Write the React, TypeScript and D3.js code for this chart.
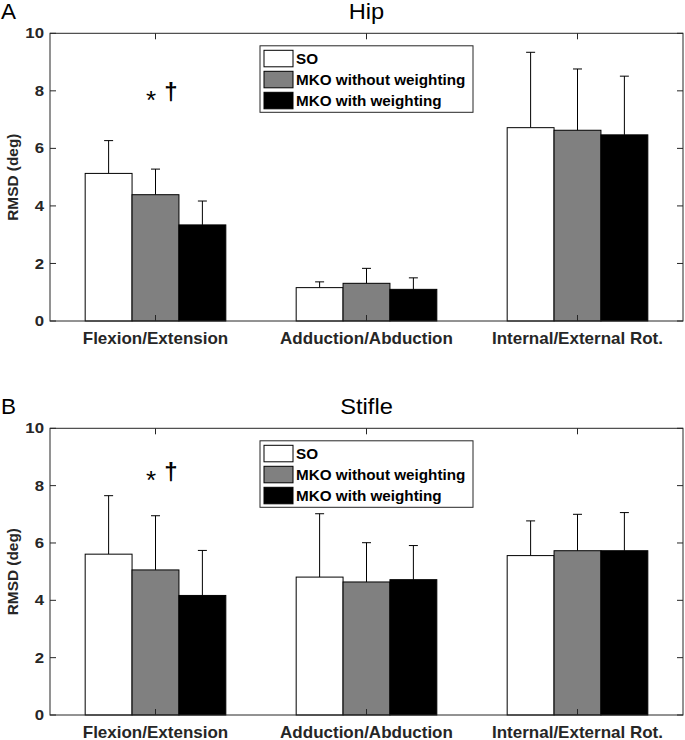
import React from "react";
import * as d3 from "d3";

const categories = ["Flexion/Extension", "Adduction/Abduction", "Internal/External Rot."];
const seriesNames = ["SO", "MKO without weighting", "MKO with weighting"];
const seriesColors = ["#ffffff", "#808080", "#000000"];
const yTicks = [0, 2, 4, 6, 8, 10];

const hipMeans = [
  [5.13, 1.16, 6.72],
  [4.39, 1.31, 6.63],
  [3.34, 1.10, 6.47],
];
const hipErrTops = [
  [6.27, 1.36, 9.34],
  [5.28, 1.83, 8.76],
  [4.17, 1.50, 8.51],
];
const stifleMeans = [
  [5.61, 4.81, 5.56],
  [5.06, 4.64, 5.73],
  [4.17, 4.72, 5.73],
];
const stifleErrTops = [
  [7.65, 7.02, 6.77],
  [6.95, 6.01, 7.0],
  [5.74, 5.91, 7.06],
];

const FONT = "Arial, 'Liberation Sans', sans-serif";
const AX = "#262626";

type PanelProps = {
  letter: string;
  title: string;
  top: number;
  bottom: number;
  means: number[][];
  errs: number[][];
  markY: number;
};

function Panel({ letter, title, top, bottom, means, errs, markY }: PanelProps) {
  const left = 50;
  const right = 683;
  const x = d3.scaleLinear().domain([0.5, 3.5]).range([left, right]);
  const y = d3.scaleLinear().domain([0, 10]).range([bottom, top]);
  const bw = 0.2222;
  const offsets = [-bw, 0, bw];
  const tickLen = 6;
  const legL = 260, legT = top + 12.5, legR = 473, legB = top + 79;
  return (
    <g>
      <text x={1} y={top - 14.5} fontFamily={FONT} fontSize={22.5} fill="#000">{letter}</text>
      <g transform={`translate(${(left + right) / 2},${top - 14.5}) scale(1.1,1)`}>
        <text x={0} y={0} fontFamily={FONT} fontSize={21.5} textAnchor="middle" fill="#000">{title}</text>
      </g>
      {/* bars */}
      {means.map((s, si) =>
        s.map((v, ci) => {
          const cx = x(ci + 1 + offsets[si]);
          const x0 = x(ci + 1 + offsets[si] - bw / 2);
          const x1 = x(ci + 1 + offsets[si] + bw / 2);
          const et = errs[si][ci];
          return (
            <g key={`${si}-${ci}`}>
              <line x1={cx} x2={cx} y1={y(v)} y2={y(et)} stroke="#000" strokeWidth={1} />
              <line x1={cx - 4.5} x2={cx + 4.5} y1={y(et)} y2={y(et)} stroke="#000" strokeWidth={1} />
              <rect x={x0} y={y(v)} width={x1 - x0} height={y(0) - y(v)} fill={seriesColors[si]} stroke="#000" strokeWidth={1} />
            </g>
          );
        })
      )}
      {/* axes box */}
      <rect x={left} y={top} width={right - left} height={bottom - top} fill="none" stroke={AX} strokeWidth={1} />
      {yTicks.map((t) => (
        <g key={t}>
          <line x1={left} x2={left + tickLen} y1={y(t)} y2={y(t)} stroke={AX} />
          <line x1={right} x2={right - tickLen} y1={y(t)} y2={y(t)} stroke={AX} />
          <g transform={`translate(44,${y(t)}) scale(1.2,1)`}>
            <text x={0} y={0} dy="0.36em" textAnchor="end" fontFamily={FONT} fontWeight="bold" fontSize={14} fill={AX}>{t}</text>
          </g>
        </g>
      ))}
      {categories.map((c, i) => (
        <g key={c}>
          <line x1={x(i + 1)} x2={x(i + 1)} y1={top} y2={top + tickLen} stroke={AX} />
          <line x1={x(i + 1)} x2={x(i + 1)} y1={bottom} y2={bottom - tickLen} stroke={AX} />
          <text x={x(i + 1)} y={bottom + 22.5} textAnchor="middle" fontFamily={FONT} fontWeight="bold" fontSize={17} fill={AX}>{c}</text>
        </g>
      ))}
      <g transform={`translate(18,${(top + bottom) / 2}) rotate(-90) scale(1.1,1)`}>
        <text x={0} y={0} textAnchor="middle" fontFamily={FONT} fontWeight="bold" fontSize={14} fill={AX}>RMSD (deg)</text>
      </g>
      {/* significance marks */}
      <text x={x(1) - 4.5} y={y(markY) + 9} textAnchor="middle" fontFamily={FONT} fontSize={26} fill="#000">*</text>
      <text x={x(1) + 15.5} y={y(markY)} textAnchor="middle" fontFamily={FONT} fontWeight="bold" fontSize={24} fill="#000">{"\u2020"}</text>
      {/* legend */}
      <rect x={legL} y={legT} width={legR - legL} height={legB - legT} fill="#fff" stroke={AX} strokeWidth={1} />
      {seriesNames.map((n, i) => {
        const ry = legT + 4.5 + i * 21;
        return (
          <g key={n}>
            <rect x={legL + 4} y={ry} width={29} height={16.5} fill={seriesColors[i]} stroke="#000" strokeWidth={1} />
            <g transform={`translate(${legL + 36},${ry + 8.5}) scale(1.09,1)`}>
              <text x={0} y={0} dy="0.36em" fontFamily={FONT} fontWeight="bold" fontSize={14} fill="#000">{n}</text>
            </g>
          </g>
        );
      })}
    </g>
  );
}

export default function App() {
  return (
    <svg width={685} height={740} style={{ position: "absolute", left: 0, top: 0, background: "#fff" }}>
      <rect width={685} height={740} fill="#fff" />
      <Panel letter="A" title="Hip" top={33.3} bottom={321} means={hipMeans} errs={hipErrTops} markY={7.67} />
      <Panel letter="B" title="Stifle" top={428.3} bottom={715} means={stifleMeans} errs={stifleErrTops} markY={8.2} />
    </svg>
  );
}
